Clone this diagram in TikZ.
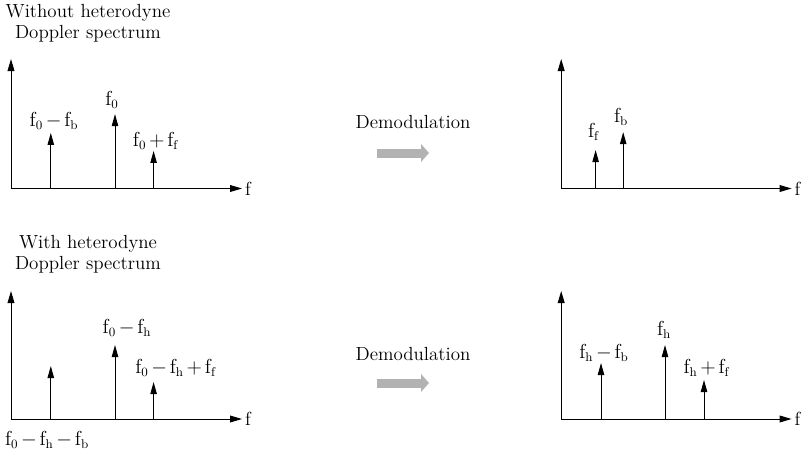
\documentclass[tikz,border=0pt]{standalone}
\usetikzlibrary{arrows.meta,positioning}
\newcommand{\fq}[1]{\mathrm{f}_{\mathrm{#1}}}
\medmuskip=2.5mu

\begin{document}
\begin{tikzpicture}[
    font=\fontsize{13.5}{15}\selectfont,
    axis/.style={line width=0.7pt,-{Triangle[length=0.3cm,width=0.17cm]}},
    peak/.style={line width=0.7pt,-{Triangle[length=0.3cm,width=0.16cm]}},
    demod/.style={line width=0.225cm,draw=black!30,-{Triangle[length=0.2cm,width=0.45cm,line width=0pt]}},
  ]
  \useasboundingbox (0,0) rectangle (20.175,11.475);

  % Without heterodyne: axes
  \coordinate (o1) at (0.275,6.7625);
  \coordinate (y1) at (0.275,10.0);
  \coordinate (x1) at (6.05,6.7625);
  \draw[axis] (o1) -- (y1);
  \draw[axis] (o1) -- (x1);
  \node[right,inner sep=2pt] (f1) at (x1) {f};
  \node[align=center] (t1) at (2.2,10.9) {Without heterodyne\\Doppler spectrum};

  % Without heterodyne: lines
  \coordinate (a1) at (1.27,6.7625);
  \coordinate (b1) at (2.875,6.7625);
  \coordinate (c1) at (3.84,6.7625);
  \draw[peak] (a1) -- ++(0,1.39) coordinate (a1t);
  \draw[peak] (b1) -- ++(0,1.86) coordinate (b1t);
  \draw[peak] (c1) -- ++(0,0.94) coordinate (c1t);
  \node (la1) at (1.35,8.45) {$\fq{0} - \fq{b}$};
  \node (lb1) at (2.8,8.975) {$\fq{0}$};
  \node (lc1) at (3.9,7.95) {$\fq{0} + \fq{f}$};

  % Demodulated, without heterodyne
  \coordinate (o2) at (14.03,6.7625);
  \coordinate (y2) at (14.03,10.0);
  \coordinate (x2) at (19.79,6.7625);
  \draw[axis] (o2) -- (y2);
  \draw[axis] (o2) -- (x2);
  \node[right,inner sep=2pt] (f2) at (x2) {f};
  \coordinate (a2) at (14.89,6.7625);
  \coordinate (b2) at (15.58,6.7625);
  \draw[peak] (a2) -- ++(0,0.96) coordinate (a2t);
  \draw[peak] (b2) -- ++(0,1.41) coordinate (b2t);
  \node (la2) at (14.85,8.175) {$\fq{f}$};
  \node (lb2) at (15.525,8.55) {$\fq{b}$};

  % Demodulation step (top)
  \node (d1) at (10.325,8.425) {Demodulation};
  \coordinate (s1) at (9.425,7.65);
  \coordinate (e1) at (10.725,7.65);
  \draw[demod] (s1) -- (e1);

  % With heterodyne: axes
  \coordinate (o3) at (0.275,1.0);
  \coordinate (y3) at (0.275,4.2);
  \coordinate (x3) at (6.05,1.0);
  \draw[axis] (o3) -- (y3);
  \draw[axis] (o3) -- (x3);
  \node[right,inner sep=2pt] (f3) at (x3) {f};
  \node[align=center] (t3) at (2.2,5.125) {With heterodyne\\Doppler spectrum};

  % With heterodyne: lines
  \coordinate (a3) at (1.27,1.0);
  \coordinate (b3) at (2.875,1.0);
  \coordinate (c3) at (3.84,1.0);
  \draw[peak] (a3) -- ++(0,1.325) coordinate (a3t);
  \draw[peak] (b3) -- ++(0,1.85) coordinate (b3t);
  \draw[peak] (c3) -- ++(0,0.925) coordinate (c3t);
  \node (la3) at (1.175,0.475) {$\fq{0} - \fq{h} - \fq{b}$};
  \node (lb3) at (3.175,3.275) {$\fq{0} - \fq{h}$};
  \node (lc3) at (4.4,2.275) {$\fq{0} - \fq{h} + \fq{f}$};

  % Demodulated, with heterodyne
  \coordinate (o4) at (14.03,1.0);
  \coordinate (y4) at (14.03,4.2);
  \coordinate (x4) at (19.79,1.0);
  \draw[axis] (o4) -- (y4);
  \draw[axis] (o4) -- (x4);
  \node[right,inner sep=2pt] (f4) at (x4) {f};
  \coordinate (a4) at (15.025,1.0);
  \coordinate (b4) at (16.625,1.0);
  \coordinate (c4) at (17.6,1.0);
  \draw[peak] (a4) -- ++(0,1.4) coordinate (a4t);
  \draw[peak] (b4) -- ++(0,1.85) coordinate (b4t);
  \draw[peak] (c4) -- ++(0,0.975) coordinate (c4t);
  \node (la4) at (15.1,2.65) {$\fq{h} - \fq{b}$};
  \node (lb4) at (16.6,3.225) {$\fq{h}$};
  \node (lc4) at (17.675,2.275) {$\fq{h} + \fq{f}$};

  % Demodulation step (bottom)
  \node (d2) at (10.325,2.625) {Demodulation};
  \coordinate (s2) at (9.425,1.9);
  \coordinate (e2) at (10.725,1.9);
  \draw[demod] (s2) -- (e2);
\end{tikzpicture}
\end{document}
